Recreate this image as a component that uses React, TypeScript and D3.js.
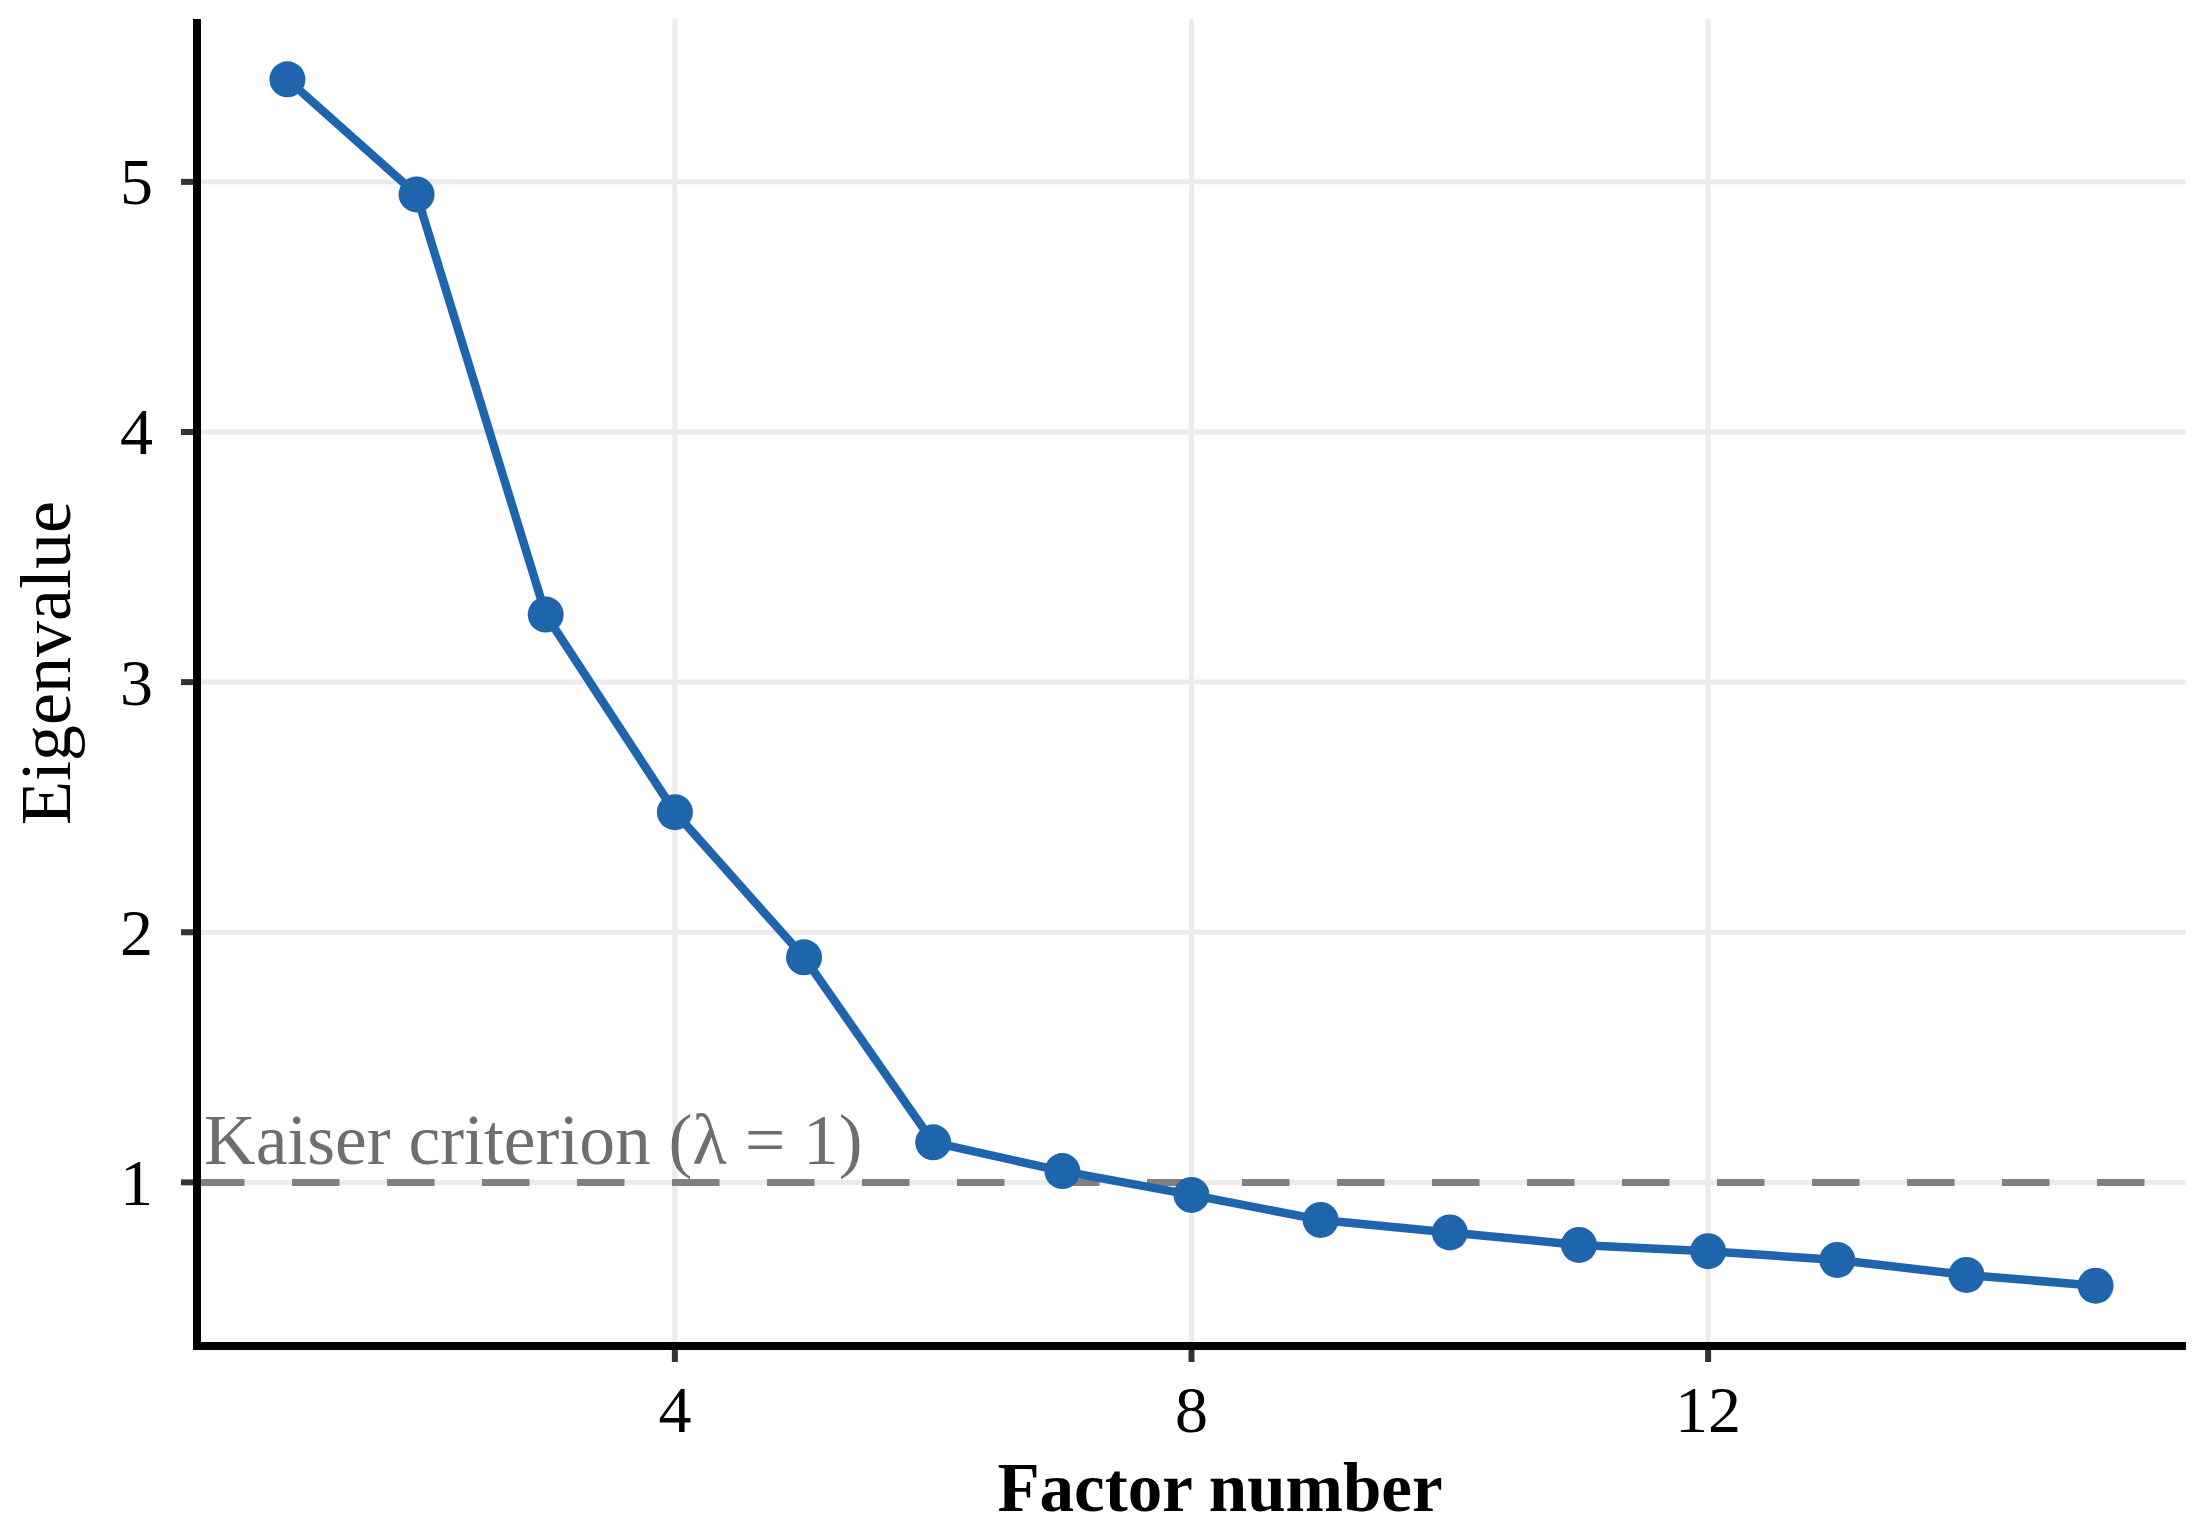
import React from "react";
import * as d3 from "d3";

const factors = [1, 2, 3, 4, 5, 6, 7, 8, 9, 10, 11, 12, 13, 14, 15];
const eigenvalues = [5.41, 4.95, 3.27, 2.48, 1.9, 1.16, 1.045, 0.95, 0.85, 0.8, 0.75, 0.725, 0.69, 0.63, 0.587];
const xTicks = [4, 8, 12];
const yTicks = [1, 2, 3, 4, 5];
const kaiserValue = 1;
const kaiserLabel = "Kaiser criterion (\u03BB = 1)";
const xTitle = "Factor number";
const yTitle = "Eigenvalue";

const W = 2206;
const H = 1531;
const left = 197;
const right = 2186;
const top = 19;
const bottom = 1346;
const FONT = "'Liberation Serif', 'Times New Roman', serif";
const BLUE = "#1F65AD";

function expand(ext: [number, number], f = 0.05): [number, number] {
  const span = ext[1] - ext[0];
  return [ext[0] - span * f, ext[1] + span * f];
}

export default function App() {
  const x = d3.scaleLinear().domain(expand(d3.extent(factors) as [number, number])).range([left, right]);
  const y = d3.scaleLinear().domain(expand(d3.extent(eigenvalues) as [number, number])).range([bottom, top]);
  const pts = factors.map((f, i) => [f, eigenvalues[i]] as [number, number]);
  const line = d3
    .line<[number, number]>()
    .x((d) => x(d[0]))
    .y((d) => y(d[1]));

  return (
    <svg
      width={W}
      height={H}
      viewBox={`0 0 ${W} ${H}`}
      style={{ position: "absolute", left: 0, top: 0, display: "block", background: "#fff" }}
    >
      <rect x={0} y={0} width={W} height={H} fill="#fff" />
      {/* grid */}
      {yTicks.map((t) => (
        <line key={"gy" + t} x1={left} x2={right} y1={y(t)} y2={y(t)} stroke="#EBEBEB" strokeWidth={5} />
      ))}
      {xTicks.map((t) => (
        <line key={"gx" + t} x1={x(t)} x2={x(t)} y1={top} y2={bottom} stroke="#EBEBEB" strokeWidth={5} />
      ))}
      {/* kaiser line */}
      <line
        x1={left}
        x2={right}
        y1={y(kaiserValue)}
        y2={y(kaiserValue)}
        stroke="#808080"
        strokeWidth={7}
        strokeDasharray="47.5,47.5"
      />
      <text x={204} y={1164} fontFamily={FONT} fontSize={71.5} fill="#6E6E6E">
        {kaiserLabel}
      </text>
      {/* series */}
      <path d={line(pts) || ""} fill="none" stroke={BLUE} strokeWidth={8.5} strokeLinejoin="round" />
      {pts.map((p, i) => (
        <circle key={"p" + i} cx={x(p[0])} cy={y(p[1])} r={18} fill={BLUE} />
      ))}
      {/* axes */}
      {yTicks.map((t) => (
        <g key={"ty" + t}>
          <line x1={left - 16} x2={left} y1={y(t)} y2={y(t)} stroke="#333" strokeWidth={6} />
          <text
            x={153}
            y={y(t)}
            dy="0.34em"
            textAnchor="end"
            fontFamily={FONT}
            fontSize={66}
            fill="#000"
          >
            {t}
          </text>
        </g>
      ))}
      {xTicks.map((t) => (
        <g key={"tx" + t}>
          <line x1={x(t)} x2={x(t)} y1={bottom} y2={bottom + 16} stroke="#333" strokeWidth={6} />
          <text x={x(t)} y={1432} textAnchor="middle" fontFamily={FONT} fontSize={66} fill="#000">
            {t}
          </text>
        </g>
      ))}
      <line x1={left} x2={left} y1={top} y2={bottom + 4} stroke="#000" strokeWidth={8} />
      <line x1={left - 4} x2={right} y1={bottom} y2={bottom} stroke="#000" strokeWidth={8} />
      {/* titles */}
      <text x={1220} y={1511} textAnchor="middle" fontFamily={FONT} fontSize={69} fontWeight="bold" fill="#000">
        {xTitle}
      </text>
      <text
        transform={`translate(70, 663) rotate(-90)`}
        textAnchor="middle"
        fontFamily={FONT}
        fontSize={72}
        fill="#000"
      >
        {yTitle}
      </text>
    </svg>
  );
}
